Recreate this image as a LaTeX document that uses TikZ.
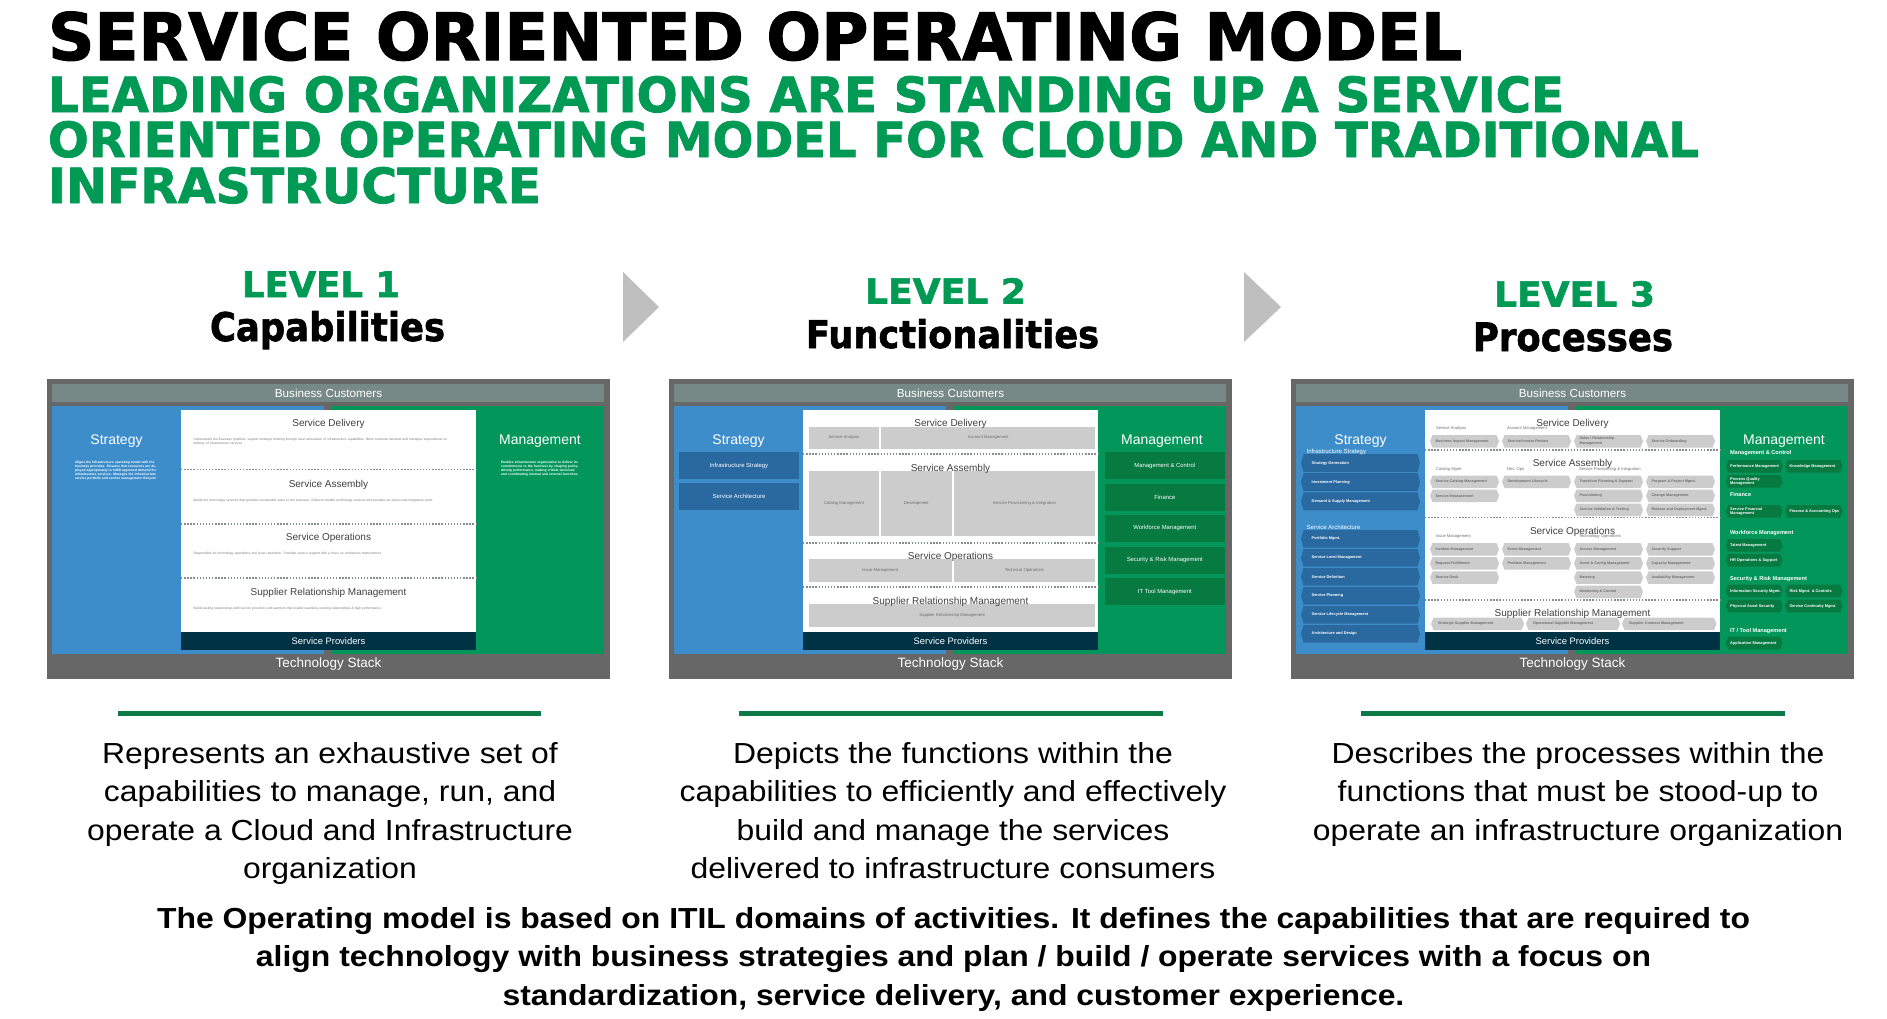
\documentclass[tikz,border=0pt]{standalone}
\usepackage{fontspec}
\setmainfont{Liberation Sans}
\newfontfamily\headfont{DejaVu Sans}[BoldFeatures={FakeBold=1.6}]
\usepackage{graphicx}

\definecolor{frame}{HTML}{676767}
\definecolor{bizband}{HTML}{778986}
\definecolor{stratblue}{HTML}{3E8DCB}
\definecolor{mgmtgreen}{HTML}{02965A}
\definecolor{navy}{HTML}{003245}
\definecolor{darkblue}{HTML}{2A69A0}
\definecolor{darkgreen}{HTML}{077A41}
\definecolor{boxgray}{HTML}{CBCCCB}
\definecolor{boxtext}{HTML}{6E6E6E}
\definecolor{dotgray}{HTML}{858D8D}
\definecolor{sectext}{HTML}{404040}
\definecolor{desctext}{HTML}{7A7A7A}
\definecolor{titlegreen}{HTML}{009A55}
\definecolor{rulegreen}{HTML}{0B7A47}
\definecolor{arrowgray}{HTML}{BFBFBF}

% font size in px (1pt = 1px here), leading 1.2
\newcommand\fsz[1]{\fontsize{#1}{\fpeval{1.2*#1}}\selectfont}

\tikzset{
  every node/.style={inner sep=0pt, outer sep=0pt},
  bartext/.style={text=white, anchor=base},
  coltitle/.style={text=white, font=\fsz{14}, anchor=base},
  sectitle/.style={text=sectext, font=\fsz{10}, anchor=base},
  dotline/.style={draw=dotgray, line width=1.4pt, dash pattern=on 1.4pt off 1.7pt},
  glblc/.style={text=boxtext, font=\fsz{4.2}, align=center},
  glbl/.style={text=boxtext, font=\bfseries\fsz{3.7}, align=left},
  ghdr/.style={text=boxtext, font=\fsz{4.1}, anchor=west},
  wlblc/.style={text=white, font=\fsz{5.9}, align=center},
  wlbl/.style={text=white, font=\bfseries\fsz{3.9}, align=left},
  hdr/.style={text=white, font=\fsz{6}, anchor=west},
  hdrb/.style={text=white, font=\bfseries\fsz{5.6}, anchor=west},
  tinytext/.style={text=desctext, font=\fsz{3.3}, align=left, anchor=north west},
  greenrule/.style={draw=rulegreen, line width=5pt},
  chevron/.style={fill=arrowgray},
}

% rectangle with pointed ends and a left-set caption: x1,y1,x2,y2,fill,style,indent,text
\newcommand\hexbox[8]{%
  \fill[#5] (#1+2.5,#2) -- (#3-2.5,#2) -- (#3,{(#2+#4)/2}) -- (#3-2.5,#4)
     -- (#1+2.5,#4) -- (#1,{(#2+#4)/2}) -- cycle;
  \node[#6, anchor=west] at (#1+#7,{(#2+#4)/2}) {#8};}
% flat box with centred caption: x1,y1,x2,y2,fill,style,text
\newcommand\cbox[7]{%
  \fill[#5] (#1,#2) rectangle (#3,#4);
  \node[#6] at ({(#1+#3)/2},{(#2+#4)/2}) {#7};}

% common frame of each operating-model panel
\newcommand\panelbase{%
  \fill[frame] (0,0) rectangle (563,300);
  \fill[bizband] (5,5) rectangle (557,23);
  \fill[stratblue] (5,27) rectangle (277,275);
  \fill[mgmtgreen] (285,27) rectangle (557,275);
  \fill[white] (134,31) rectangle (429,253);
  \fill[navy] (134,253) rectangle (429,271);
  \node[bartext, font=\fsz{11.7}] (biz) at (281.5,18.2) {Business Customers};
  \node[bartext, font=\fsz{9.4}] (prov) at (281.5,265.4) {Service Providers};
  \node[bartext, font=\fsz{13.5}] (tech) at (281.5,288.8) {Technology Stack};
  \node[coltitle] (strat) at (69.5,65) {Strategy};
  \node[coltitle] (mgmt) at (493,65) {Management};
}

\newcommand\desc[1]{\scalebox{1.1}[1]{\fontsize{29}{38.4}\selectfont
  \begin{tabular}[t]{@{}c@{}}#1\end{tabular}}}

\begin{document}
\begin{tikzpicture}[x=1pt,y=-1pt]
\useasboundingbox[fill=white] (0,0) rectangle (1887,1018);

% ---------- headline ----------
\node[anchor=base west] (title) at (48,60)
  {\resizebox{1414pt}{48.5pt}{\headfont\bfseries SERVICE ORIENTED OPERATING MODEL}};
\node[anchor=base west, text=titlegreen] (sub1) at (48,112)
  {\resizebox{1516pt}{36pt}{\headfont\bfseries LEADING ORGANIZATIONS ARE STANDING UP A SERVICE}};
\node[anchor=base west, text=titlegreen] (sub2) at (48,157)
  {\resizebox{1651pt}{36pt}{\headfont\bfseries ORIENTED OPERATING MODEL FOR CLOUD AND TRADITIONAL}};
\node[anchor=base west, text=titlegreen] (sub3) at (48,203)
  {\resizebox{493pt}{36pt}{\headfont\bfseries INFRASTRUCTURE}};

% ---------- level headings ----------
\node[anchor=base, text=titlegreen] (lv1) at (321,297)
  {\resizebox{158pt}{25.5pt}{\headfont\bfseries LEVEL 1}};
\node[anchor=base] (cap) at (327.5,341)
  {\resizebox{235pt}{30pt}{\headfont\bfseries Capabilities}};
\node[anchor=base, text=titlegreen] (lv2) at (945.5,303.5)
  {\resizebox{161pt}{25.5pt}{\headfont\bfseries LEVEL 2}};
\node[anchor=base] (fun) at (952.5,348)
  {\resizebox{293pt}{29pt}{\headfont\bfseries Functionalities}};
\node[anchor=base, text=titlegreen] (lv3) at (1574.5,306.5)
  {\resizebox{161pt}{25.5pt}{\headfont\bfseries LEVEL 3}};
\node[anchor=base] (proc) at (1573,351)
  {\resizebox{200pt}{28.5pt}{\headfont\bfseries Processes}};

\fill[chevron] (623,272) -- (659,307) -- (623,342) -- cycle;
\fill[chevron] (1244,272) -- (1281,307) -- (1244,342) -- cycle;

% ---------- panel 1: capabilities ----------
\begin{scope}[shift={(47,379)}, name prefix=p1-]
\panelbase
\node[tinytext, text=white, font=\bfseries\fsz{3.3}, text width=84pt] (stx) at (28,82)
  {Aligns the infrastructure operating model with the business priorities. Ensures that resources are deployed appropriately to fulfill approved demand for infrastructure services. Manages the infrastructure service portfolio and service management lifecycle};
\node[tinytext, text=white, font=\bfseries\fsz{3.3}, text width=80pt] (mtx) at (454,82)
  {Enables infrastructure organization to deliver its commitments to the business by shaping policy, driving performance, making critical decisions and coordinating internal and external functions};
\node[sectitle] (sd) at (281.5,47.3) {Service Delivery};
\node[tinytext, text width=258pt] (sdtx) at (146.5,59.5)
  {Understands the business priorities, support strategic thinking through clear articulation of infrastructure capabilities, filters customer demand and manages expectations on delivery of infrastructure services};
\draw[dotline] (134,90.7) -- (429,90.7);
\node[sectitle] (sa) at (281.5,108.3) {Service Assembly};
\node[tinytext, text width=258pt] (satx) at (146.5,120)
  {Builds the technology services that provides sustainable value to the business. Delivers reliable technology services and provides an end-to-end integration point.};
\draw[dotline] (134,145) -- (429,145);
\node[sectitle] (so) at (281.5,161.3) {Service Operations};
\node[tinytext, text width=258pt] (sotx) at (146.5,172.8)
  {Responsible for technology operations and issue resolution. Provides service support with a focus on continuous improvement};
\draw[dotline] (134,199) -- (429,199);
\node[sectitle] (srm) at (281.5,216.3) {Supplier Relationship Management};
\node[tinytext, text width=258pt] (srmtx) at (146.5,228.2)
  {Builds lasting relationships with service providers and partners that enable seamless working relationships \& high performance};
\end{scope}

% ---------- panel 2: functionalities ----------
\begin{scope}[shift={(669,379)}, name prefix=p2-]
\panelbase
\cbox{10}{73.3}{130}{99.7}{darkblue}{wlblc}{Infrastructure Strategy}
\cbox{10}{104}{130}{130.7}{darkblue}{wlblc}{Service Architecture}
\cbox{436}{73.3}{555.6}{99.7}{darkgreen}{wlblc}{Management \& Control}
\cbox{436}{105}{555.6}{131.7}{darkgreen}{wlblc}{Finance}
\cbox{436}{136}{555.6}{162.7}{darkgreen}{wlblc}{Workforce Management}
\cbox{436}{168}{555.6}{194.7}{darkgreen}{wlblc}{Security \& Risk Management}
\cbox{436}{199.3}{555.6}{225.7}{darkgreen}{wlblc}{IT Tool Management}
% service delivery
\cbox{139.8}{48}{210}{69.7}{boxgray}{glblc}{Service Analysis}
\cbox{212}{48}{426.4}{69.7}{boxgray}{glblc}{Account Management}
\draw[dotline] (134,75) -- (429,75);
% service assembly
\cbox{139.8}{92}{210}{156.7}{boxgray}{glblc}{Catalog Management}
\cbox{212}{92}{282.5}{156.7}{boxgray}{glblc}{Development}
\cbox{284.5}{92}{426.4}{156.7}{boxgray}{glblc}{Service Provisioning \& Integration}
\draw[dotline] (134,164) -- (429,164);
% service operations
\cbox{139.8}{180}{282.5}{202.7}{boxgray}{glblc}{Issue Management}
\cbox{284.5}{180}{426.4}{202.7}{boxgray}{glblc}{Technical Operations}
\draw[dotline] (134,208) -- (429,208);
% supplier relationship management
\cbox{139.8}{225}{426.4}{247.7}{boxgray}{glblc}{Supplier Relationship Management}
\node[sectitle] (sd) at (281.5,47.3) {Service Delivery};
\node[sectitle] (sa) at (281.5,92.3) {Service Assembly};
\node[sectitle] (so) at (281.5,180.3) {Service Operations};
\node[sectitle] (srm) at (281.5,225.3) {Supplier Relationship Management};
\end{scope}

% ---------- panel 3: processes ----------
\begin{scope}[shift={(1291,379)}, name prefix=p3-]
\panelbase
% strategy column
\hexbox{10}{75}{129}{93}{darkblue}{wlbl}{10.7}{Strategy Generation}
\hexbox{10}{94.2}{129}{112.2}{darkblue}{wlbl}{10.7}{Investment Planning}
\hexbox{10}{113.4}{129}{131.4}{darkblue}{wlbl}{10.7}{Demand \& Supply Management}
\hexbox{10}{151}{129}{168.7}{darkblue}{wlbl}{10.7}{Portfolio Mgmt.}
\hexbox{10}{170}{129}{187.7}{darkblue}{wlbl}{10.7}{Service Level Management}
\hexbox{10}{189}{129}{206.7}{darkblue}{wlbl}{10.7}{Service Definition}
\hexbox{10}{208}{129}{225.7}{darkblue}{wlbl}{10.7}{Service Planning}
\hexbox{10}{227}{129}{244.7}{darkblue}{wlbl}{10.7}{Service Lifecycle Management}
\hexbox{10}{246}{129}{263.7}{darkblue}{wlbl}{10.7}{Architecture and Design}
\node[hdr] (infra) at (15.7,72.7) {Infrastructure Strategy};
\node[hdr] (arch) at (15.7,148.7) {Service Architecture};
% management column
\node[hdrb] (mc) at (439,73.7) {Management \& Control};
\hexbox{434.7}{81}{491.7}{93.7}{darkgreen}{wlbl}{4.5}{Performance Management}
\hexbox{494}{81}{551.7}{93.7}{darkgreen}{wlbl}{4.5}{Knowledge Management}
\hexbox{434.7}{96}{491.7}{108.7}{darkgreen}{wlbl}{4.5}{Process Quality\\Management}
\node[hdrb] (fin) at (439,115) {Finance};
\hexbox{434.7}{126}{491.7}{138.7}{darkgreen}{wlbl}{4.5}{Service Financial\\Management}
\hexbox{494}{126}{551.7}{138.7}{darkgreen}{wlbl}{4.5}{Finance \& Accounting Ops}
\node[hdrb] (wf) at (439,154) {Workforce Management};
\hexbox{434.7}{160}{491.7}{172.7}{darkgreen}{wlbl}{4.5}{Talent Management}
\hexbox{434.7}{175}{491.7}{187.7}{darkgreen}{wlbl}{4.5}{HR Operations \& Support}
\node[hdrb] (sec) at (439,200) {Security \& Risk Management};
\hexbox{434.7}{205.7}{491.7}{218.3}{darkgreen}{wlbl}{4.5}{Information Security Mgmt.}
\hexbox{494}{205.7}{551.7}{218.3}{darkgreen}{wlbl}{4.5}{Risk Mgmt. \& Controls}
\hexbox{434.7}{220.7}{491.7}{233.3}{darkgreen}{wlbl}{4.5}{Physical Asset Security}
\hexbox{494}{220.7}{551.7}{233.3}{darkgreen}{wlbl}{4.5}{Service Continuity Mgmt.}
\node[hdrb] (ittool) at (439,251.7) {IT / Tool Management};
\hexbox{434.7}{257.7}{491.7}{270.3}{darkgreen}{wlbl}{4.5}{Application Management}
% service delivery
\node[ghdr] (an) at (145,49.7) {Service Analysis};
\node[ghdr] (acc) at (216,49.7) {Account Management};
\hexbox{139}{56}{208}{68.5}{boxgray}{glbl}{5.5}{Business Impact Management}
\hexbox{211}{56}{280}{68.5}{boxgray}{glbl}{5.5}{Service/Invoice Review}
\hexbox{283}{56}{352}{68.5}{boxgray}{glbl}{5.5}{Sales / Relationship\\Management}
\hexbox{355}{56}{424}{68.5}{boxgray}{glbl}{5.5}{Service Onboarding}
\draw[dotline] (134,71) -- (429,71);
% service assembly
\node[ghdr] (cat) at (145,90.3) {Catalog Mgmt.};
\node[ghdr] (dev) at (216,90.3) {Dev. Ops};
\node[ghdr] (spi) at (288,90.3) {Service Provisioning \& Integration};
\hexbox{139}{96.5}{208}{109}{boxgray}{glbl}{5.5}{Service Catalog Management}
\hexbox{211}{96.5}{280}{109}{boxgray}{glbl}{5.5}{Development Lifecycle}
\hexbox{283}{96.5}{352}{109}{boxgray}{glbl}{5.5}{Transition Planning \& Support}
\hexbox{355}{96.5}{424}{109}{boxgray}{glbl}{5.5}{Program \& Project Mgmt.}
\hexbox{139}{110.5}{208}{123}{boxgray}{glbl}{5.5}{Service Measurement}
\hexbox{283}{110.5}{352}{123}{boxgray}{glbl}{5.5}{Provisioning}
\hexbox{355}{110.5}{424}{123}{boxgray}{glbl}{5.5}{Change Management}
\hexbox{283}{124.5}{352}{137}{boxgray}{glbl}{5.5}{Service Validation \& Testing}
\hexbox{355}{124.5}{424}{137}{boxgray}{glbl}{5.5}{Release and Deployment Mgmt.}
\draw[dotline] (134,138.6) -- (429,138.6);
% service operations
\node[ghdr] (iss) at (145,157.3) {Issue Management};
\node[ghdr] (tops) at (288,157.3) {Technology Operations};
\hexbox{139}{164}{208}{176.5}{boxgray}{glbl}{5.5}{Incident Management}
\hexbox{211}{164}{280}{176.5}{boxgray}{glbl}{5.5}{Event Management}
\hexbox{283}{164}{352}{176.5}{boxgray}{glbl}{5.5}{Access Management}
\hexbox{355}{164}{424}{176.5}{boxgray}{glbl}{5.5}{Security Support}
\hexbox{139}{178.2}{208}{190.7}{boxgray}{glbl}{5.5}{Request Fulfillment}
\hexbox{211}{178.2}{280}{190.7}{boxgray}{glbl}{5.5}{Problem Management}
\hexbox{283}{178.2}{352}{190.7}{boxgray}{glbl}{5.5}{Asset \& Config Management}
\hexbox{355}{178.2}{424}{190.7}{boxgray}{glbl}{5.5}{Capacity Management}
\hexbox{139}{192.4}{208}{204.9}{boxgray}{glbl}{5.5}{Service Desk}
\hexbox{283}{192.4}{352}{204.9}{boxgray}{glbl}{5.5}{Metering}
\hexbox{355}{192.4}{424}{204.9}{boxgray}{glbl}{5.5}{Availability Management}
\hexbox{283}{206.6}{352}{219.1}{boxgray}{glbl}{5.5}{Monitoring \& Control}
\draw[dotline] (134,221) -- (429,221);
% supplier relationship management
\hexbox{140}{238.7}{233}{251}{boxgray}{glbl}{7}{Strategic Supplier Management}
\hexbox{235}{238.7}{329}{251}{boxgray}{glbl}{7}{Operational Supplier Management}
\hexbox{331}{238.7}{425.5}{251}{boxgray}{glbl}{7}{Supplier Contract Management}
\node[sectitle] (sd) at (281.5,47.3) {Service Delivery};
\node[sectitle] (sa) at (281.5,87.9) {Service Assembly};
\node[sectitle] (so) at (281.5,155.3) {Service Operations};
\node[sectitle] (srm) at (281.5,237.9) {Supplier Relationship Management};
\end{scope}

% ---------- level descriptions ----------
\draw[greenrule] (118,713) -- (541,713);
\draw[greenrule] (739,713) -- (1163,713);
\draw[greenrule] (1361,713) -- (1785,713);

\node[anchor=base] (d1) at (330,763.3) {\desc{Represents an exhaustive set of\\
  capabilities to manage, run, and\\ operate a Cloud and Infrastructure\\ organization}};
\node[anchor=base] (d2) at (953,763.3) {\desc{Depicts the functions within the\\
  capabilities to efficiently and effectively\\ build and manage the services\\
  delivered to infrastructure consumers}};
\node[anchor=base] (d3) at (1578,763.3) {\desc{Describes the processes within the\\
  functions that must be stood-up to\\ operate an infrastructure organization}};

\node[anchor=base] (summary) at (953.5,928.3) {\scalebox{1.1}[1]{\fontsize{29}{38.4}\selectfont\bfseries
  \begin{tabular}[t]{@{}c@{}}The Operating model is based on ITIL domains of activities. It defines the capabilities that are required to\\
  align technology with business strategies and plan / build / operate services with a focus on\\
  standardization, service delivery, and customer experience.\end{tabular}}};
\end{tikzpicture}
\end{document}
